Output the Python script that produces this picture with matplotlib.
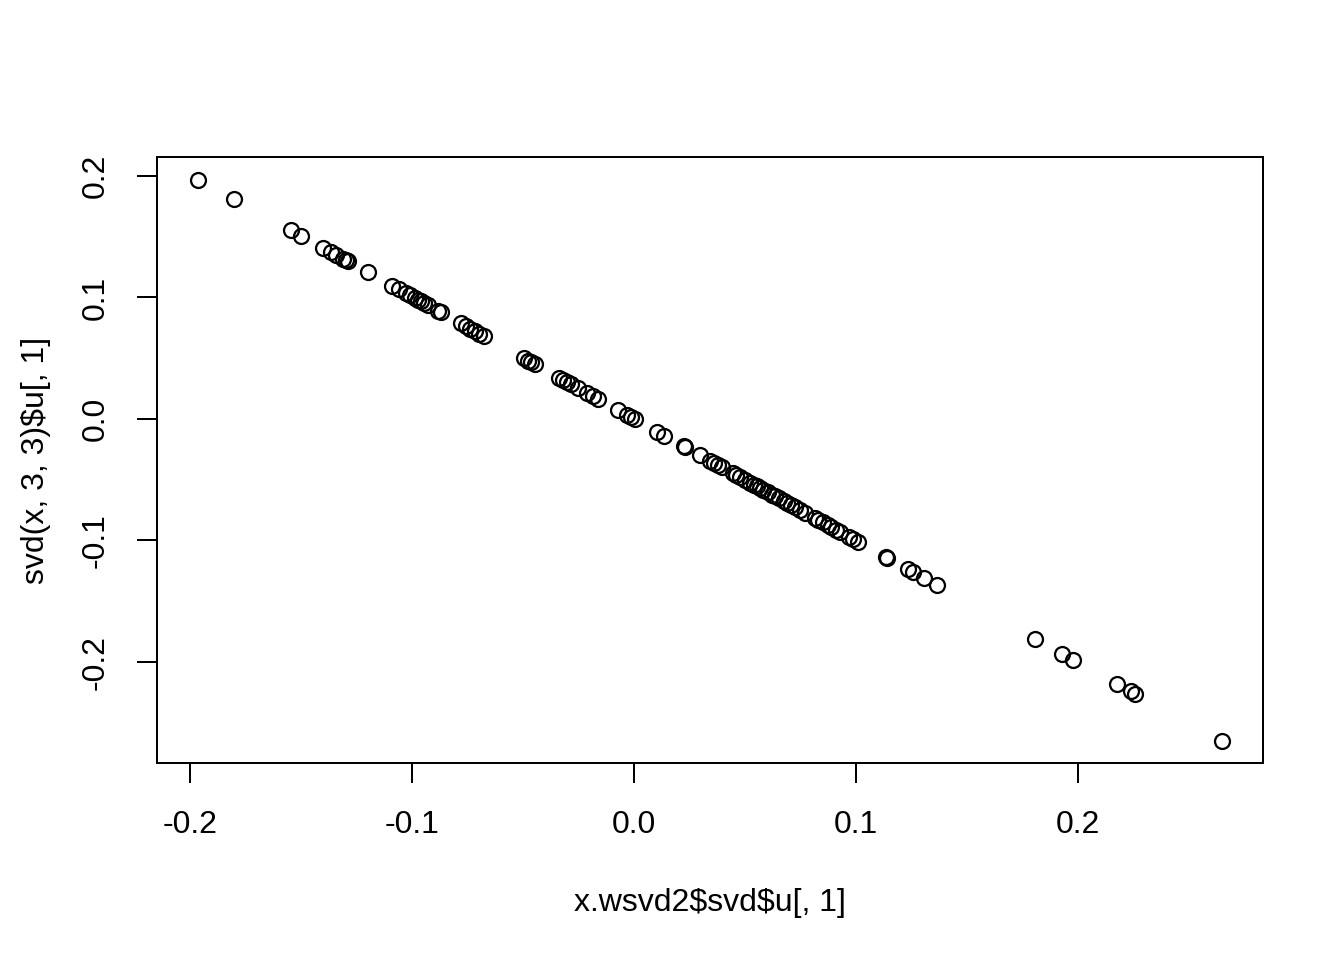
import matplotlib
matplotlib.use("Agg")
import matplotlib.pyplot as plt

# first left singular vector from the weighted svd
wsvd_u1 = [-0.1964, -0.1802, -0.1545, -0.1500, -0.1401, -0.1365, -0.1342, -0.1311,
           -0.1297, -0.1288, -0.1198, -0.1090, -0.1059, -0.1027, -0.1009, -0.0986,
           -0.0973, -0.0959, -0.0946, -0.0928, -0.0883, -0.0869, -0.0779, -0.0757,
           -0.0739, -0.0716, -0.0698, -0.0676, -0.0495, -0.0477, -0.0464, -0.0446,
           -0.0338, -0.0320, -0.0302, -0.0284, -0.0252, -0.0212, -0.0185, -0.0162,
           -0.0072, -0.0032, -0.0014, 0.0005, 0.0104, 0.0135, 0.0225, 0.0230,
           0.0297, 0.0342, 0.0360, 0.0378, 0.0396, 0.0446, 0.0459, 0.0477,
           0.0500, 0.0523, 0.0541, 0.0554, 0.0568, 0.0581, 0.0604, 0.0622,
           0.0635, 0.0653, 0.0676, 0.0689, 0.0707, 0.0725, 0.0748, 0.0770,
           0.0815, 0.0829, 0.0851, 0.0874, 0.0887, 0.0910, 0.0928, 0.0968,
           0.0986, 0.1009, 0.1135, 0.1140, 0.1234, 0.1257, 0.1306, 0.1365,
           0.1806, 0.1928, 0.1977, 0.2176, 0.2239, 0.2257, 0.2649]

# first left singular vector from plain svd(x, 3, 3)
svd_u1 = [0.1967, 0.1806, 0.1551, 0.1502, 0.1407, 0.1370, 0.1350, 0.1315,
          0.1305, 0.1296, 0.1206, 0.1095, 0.1066, 0.1033, 0.1016, 0.0993,
          0.0980, 0.0968, 0.0953, 0.0936, 0.0889, 0.0877, 0.0786, 0.0763,
          0.0744, 0.0720, 0.0703, 0.0680, 0.0498, 0.0481, 0.0469, 0.0450,
          0.0341, 0.0324, 0.0306, 0.0288, 0.0255, 0.0214, 0.0187, 0.0165,
          0.0074, 0.0033, 0.0016, -0.0004, -0.0105, -0.0137, -0.0226, -0.0231,
          -0.0297, -0.0342, -0.0360, -0.0378, -0.0396, -0.0446, -0.0459, -0.0477,
          -0.0500, -0.0523, -0.0541, -0.0554, -0.0568, -0.0581, -0.0604, -0.0622,
          -0.0635, -0.0653, -0.0676, -0.0689, -0.0707, -0.0725, -0.0748, -0.0770,
          -0.0815, -0.0829, -0.0851, -0.0874, -0.0887, -0.0910, -0.0928, -0.0968,
          -0.0986, -0.1009, -0.1135, -0.1140, -0.1234, -0.1257, -0.1306, -0.1366,
          -0.1811, -0.1931, -0.1981, -0.2181, -0.2242, -0.2261, -0.2649]

x_ticks = [-0.2, -0.1, 0.0, 0.1, 0.2]
y_ticks = [-0.2, -0.1, 0.0, 0.1, 0.2]

plt.rcParams['font.family'] = ['Liberation Sans', 'DejaVu Sans']
plt.rcParams['text.parse_math'] = False

fig = plt.figure(figsize=(7, 5), dpi=192)
ax = fig.add_axes([0.1168, 0.2052, 0.8229, 0.6313])

ax.plot(wsvd_u1, svd_u1, linestyle='none', marker='o', markersize=5.6,
        markerfacecolor='none', markeredgecolor='black', markeredgewidth=0.85)

ax.set_xlim(-0.2149, 0.2833)
ax.set_ylim(-0.2831, 0.2156)

ax.set_xticks(x_ticks)
ax.set_xticklabels([f"{t:.1f}" for t in x_ticks])
ax.set_yticks(y_ticks)
ax.set_yticklabels([f"{t:.1f}" for t in y_ticks], rotation=90, va='center')

ax.tick_params(direction='out', length=7.5, width=0.75, labelsize=12, pad=10)
for s in ax.spines.values():
    s.set_linewidth(0.75)

ax.set_xlabel('x.wsvd2$svd$u[, 1]', fontsize=12, labelpad=18)
ax.set_ylabel('svd(x, 3, 3)$u[, 1]', fontsize=12, labelpad=11)

fig.savefig('out.png', dpi=192)
